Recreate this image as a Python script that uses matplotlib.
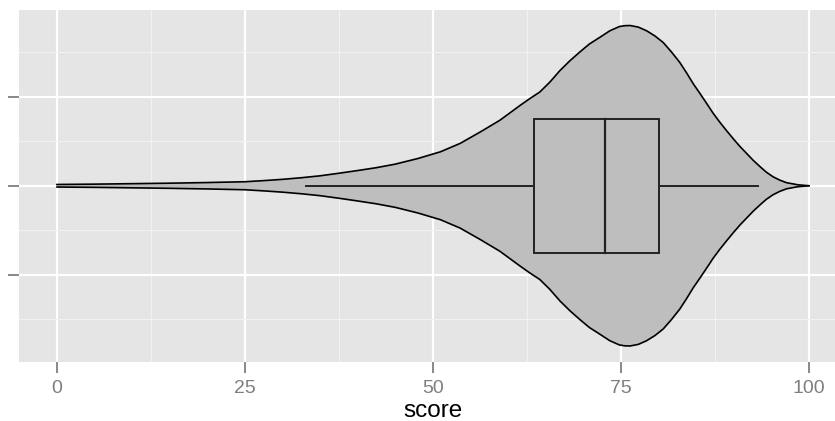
import numpy as np
import matplotlib
matplotlib.use("Agg")
import matplotlib.pyplot as plt

# -----------------------------
# Data
# -----------------------------
# violin outline: score vs relative density (1 = widest point)
score_grid = [0, 5, 10, 15, 20, 25, 27.5, 30, 32.5, 35, 37.5, 40, 42.5, 45,
              48, 51, 53.6, 56.3, 58.9, 61.6, 62.9, 64.2, 65.5, 66.9, 68.2,
              69.5, 70.8, 72.2, 73.5, 74.8, 75.5, 76.2, 77.3, 78.4, 79.5,
              80.6, 81.7, 82.8, 83.7, 84.6, 85.5, 86.4, 87.2, 88.1, 89.0,
              89.9, 90.8, 91.7, 92.6, 93.5, 94.3, 95.2, 96.1, 97.0, 98.5, 100]
rel_density = [0.008, 0.010, 0.013, 0.016, 0.020, 0.025, 0.032, 0.040, 0.050,
               0.062, 0.078, 0.095, 0.113, 0.135, 0.170, 0.212, 0.264, 0.336,
               0.409, 0.502, 0.545, 0.585, 0.645, 0.720, 0.780, 0.834, 0.885,
               0.927, 0.967, 0.994, 0.999, 1.000, 0.990, 0.967, 0.935, 0.894,
               0.835, 0.770, 0.705, 0.636, 0.575, 0.512, 0.455, 0.398, 0.345,
               0.294, 0.245, 0.201, 0.157, 0.118, 0.085, 0.056, 0.035, 0.019,
               0.006, 0.0]

# boxplot stats
whisker_low = 33.1
q1 = 63.4
median = 72.8
q3 = 80.0
whisker_high = 93.2

x_ticks = [0, 25, 50, 75, 100]
x_labels = ["0", "25", "50", "75", "100"]

# -----------------------------
# Style
# -----------------------------
plt.rcParams['font.family'] = ['Liberation Sans', 'DejaVu Sans']

bg = "#E5E5E5"
fill = "#BEBEBE"
center = 1.0
violin_half = 0.45
box_half = 0.1875

fig = plt.figure(figsize=(8.35, 4.21), dpi=100)
ax = fig.add_axes([19.1 / 835, 59 / 421, (846.8 - 19.1) / 835, (362 - 9.5) / 421])
ax.set_facecolor(bg)

# -----------------------------
# Violin
# -----------------------------
s = np.array(score_grid)
w = np.array(rel_density) * violin_half
ax.fill_between(s, center - w, center + w, facecolor=fill, edgecolor="none", zorder=2)
ax.plot(s, center + w, color="black", lw=1.2, zorder=3, solid_capstyle="round",
        solid_joinstyle="round")
ax.plot(s, center - w, color="black", lw=1.2, zorder=3, solid_capstyle="round",
        solid_joinstyle="round")

# -----------------------------
# Boxplot
# -----------------------------
ax.plot([whisker_low, q1], [center, center], color="#222222", lw=1.4, zorder=4)
ax.plot([q3, whisker_high], [center, center], color="#222222", lw=1.4, zorder=4)
box = plt.Rectangle((q1, center - box_half), q3 - q1, 2 * box_half,
                    facecolor=fill, edgecolor="#222222", lw=1.4, zorder=4)
ax.add_patch(box)
ax.plot([median, median], [center - box_half, center + box_half],
        color="#222222", lw=1.6, zorder=5)

# -----------------------------
# Axes
# -----------------------------
ax.set_xlim(-5, 105)
ax.set_ylim(0.505, 1.495)

ax.set_xticks(x_ticks)
ax.set_xticklabels(x_labels)
ax.set_xticks([12.5, 37.5, 62.5, 87.5], minor=True)
ax.set_yticks([0.75, 1.0, 1.25])
ax.set_yticklabels([])
ax.set_yticks([0.625, 0.875, 1.125, 1.375], minor=True)

ax.grid(which="major", color="white", lw=1.6, zorder=0)
ax.grid(which="minor", color="#F2F2F2", lw=0.8, zorder=0)
ax.set_axisbelow(True)

for sp in ax.spines.values():
    sp.set_visible(False)

ax.tick_params(which="major", length=8, width=1.3, color="#7F7F7F",
               labelcolor="#7F7F7F", labelsize=14, pad=5)
ax.tick_params(which="minor", length=0)

ax.set_xlabel("score", fontsize=17.5, color="black", labelpad=2)

fig.savefig("out.png", dpi=100, facecolor="white")
